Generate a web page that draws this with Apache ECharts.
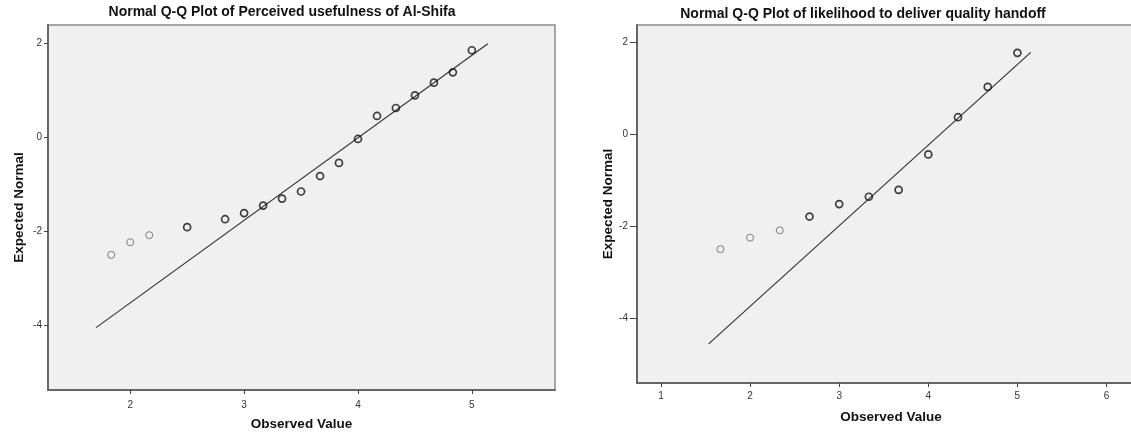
<!DOCTYPE html>
<html>
<head>
<meta charset="utf-8">
<script src="https://cdn.jsdelivr.net/npm/echarts@6/dist/echarts.min.js"></script>
<style>
html, body { margin: 0; padding: 0; background: #fff; overflow: hidden; }
#main { width: 1160px; height: 433px; }
</style>
</head>
<body>
<div id="main"></div>
<script>
// Perceived usefulness of Al-Shifa (left panel)
var usefulObserved = [1.833, 2, 2.167, 2.5, 2.833, 3, 3.167, 3.333, 3.5, 3.667, 3.833, 4, 4.167, 4.333, 4.5, 4.667, 4.833, 5];
var usefulExpected = [-2.50, -2.23, -2.08, -1.91, -1.74, -1.61, -1.45, -1.30, -1.15, -0.82, -0.54, -0.03, 0.46, 0.63, 0.90, 1.17, 1.39, 1.86];
var usefulLineX = [1.70, 5.14];
var usefulLineY = [-4.05, 2.00];
var usefulXTicks = [2, 3, 4, 5];

// likelihood to deliver quality handoff (right panel)
var handoffObserved = [1.667, 2, 2.333, 2.667, 3, 3.333, 3.667, 4, 4.333, 4.667, 5];
var handoffExpected = [-2.49, -2.24, -2.08, -1.78, -1.51, -1.35, -1.20, -0.43, 0.38, 1.04, 1.78];
var handoffLineX = [1.535, 5.15];
var handoffLineY = [-4.55, 1.79];
var handoffXTicks = [1, 2, 3, 4, 5, 6];

var yTicks = [-4, -2, 0, 2];

var FONT = 'Liberation Sans, Arial, sans-serif';

function pairs(xs, ys, lightCount) {
    var res = [];
    for (var i = 0; i < xs.length; i++) {
        var light = i < lightCount;
        res.push({
            value: [xs[i], ys[i]],
            itemStyle: {
                borderColor: light ? '#5f5f5f' : '#111',
                borderWidth: light ? 1 : 1.7
            }
        });
    }
    return res;
}

function xAxisOf(idx, min, max, ticks, gap, margin) {
    return {
        type: 'value', gridIndex: idx, min: min, max: max,
        name: 'Observed Value', nameLocation: 'middle', nameGap: gap,
        nameTextStyle: { fontFamily: FONT, fontWeight: 'bold', fontSize: 13.5, color: '#111' },
        splitLine: { show: false },
        axisLine: { show: true, onZero: false, lineStyle: { color: '#666', width: 2 } },
        axisTick: { show: true, length: 4, customValues: ticks, lineStyle: { color: '#444', width: 1 } },
        axisLabel: { customValues: ticks, margin: margin, fontFamily: FONT, fontSize: 10, color: '#333' }
    };
}

function yAxisOf(idx, min, max, gap, tickLen, margin) {
    return {
        type: 'value', gridIndex: idx, min: min, max: max,
        name: 'Expected Normal', nameLocation: 'middle', nameGap: gap,
        nameTextStyle: { fontFamily: FONT, fontWeight: 'bold', fontSize: 13.5, color: '#111' },
        splitLine: { show: false },
        axisLine: { show: true, onZero: false, lineStyle: { color: '#666', width: 2 } },
        axisTick: { show: true, length: tickLen, customValues: yTicks, lineStyle: { color: '#444', width: 1 } },
        axisLabel: { customValues: yTicks, margin: margin, fontFamily: FONT, fontSize: 10, color: '#333' }
    };
}

var myChart = echarts.init(document.getElementById('main'));

var option = {
    backgroundColor: '#fff',
    animation: false,
    title: [
        {
            text: 'Normal Q-Q Plot of Perceived usefulness of Al-Shifa',
            left: 277, top: 0, textAlign: 'center',
            textStyle: { fontFamily: FONT, fontWeight: 'bold', fontSize: 14, color: '#111' }
        },
        {
            text: 'Normal Q-Q Plot of likelihood to deliver quality handoff',
            left: 858, top: 2, textAlign: 'center',
            textStyle: { fontFamily: FONT, fontWeight: 'bold', fontSize: 14, color: '#111' }
        }
    ],
    grid: [
        { left: 48, top: 25, width: 507, height: 365, outerBoundsMode: 'none', show: true, backgroundColor: '#f0f0f0', borderColor: '#8a8a8a', borderWidth: 1.5 },
        { left: 637, top: 25, width: 508, height: 358, outerBoundsMode: 'none', show: true, backgroundColor: '#f0f0f0', borderColor: '#8a8a8a', borderWidth: 1.5 }
    ],
    xAxis: [
        xAxisOf(0, 1.278, 5.73, usefulXTicks, 27, 10),
        xAxisOf(1, 0.731, 6.432, handoffXTicks, 27, 8.5)
    ],
    yAxis: [
        yAxisOf(0, -5.379, 2.398, 22, 4, 6),
        yAxisOf(1, -5.40, 2.385, 21.5, 7, 9)
    ],
    series: [
        {
            type: 'line', xAxisIndex: 0, yAxisIndex: 0,
            data: [[usefulLineX[0], usefulLineY[0]], [usefulLineX[1], usefulLineY[1]]],
            showSymbol: false, lineStyle: { color: '#333', width: 1.2 }, z: 2
        },
        {
            type: 'scatter', xAxisIndex: 0, yAxisIndex: 0,
            data: pairs(usefulObserved, usefulExpected, 3),
            symbol: 'circle', symbolSize: 7,
            itemStyle: { color: 'transparent' }, z: 3
        },
        {
            type: 'line', xAxisIndex: 1, yAxisIndex: 1,
            data: [[handoffLineX[0], handoffLineY[0]], [handoffLineX[1], handoffLineY[1]]],
            showSymbol: false, lineStyle: { color: '#333', width: 1.2 }, z: 2
        },
        {
            type: 'scatter', xAxisIndex: 1, yAxisIndex: 1,
            data: pairs(handoffObserved, handoffExpected, 3),
            symbol: 'circle', symbolSize: 7,
            itemStyle: { color: 'transparent' }, z: 3
        }
    ]
};

myChart.setOption(option);

window.addEventListener('resize', function () {
    myChart.resize();
});
</script>
</body>
</html>
